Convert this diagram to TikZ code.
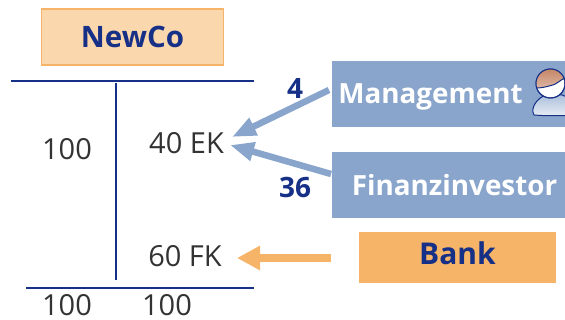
\documentclass[tikz,border=0pt]{standalone}
\usepackage{fontspec}
\setmainfont{Open Sans}
\usetikzlibrary{arrows.meta,positioning}
\definecolor{navy}{RGB}{22,48,135}
\definecolor{steel}{RGB}{137,165,204}
\definecolor{orng}{RGB}{245,180,103}
\definecolor{pale}{RGB}{250,215,172}
\definecolor{skin}{RGB}{196,132,100}
\tikzset{
  x=1pt,y=-1pt,
  rule/.style={draw=navy,line width=1.1pt},
  val/.style={font=\fontsize{29}{29}\selectfont,text=black!80,inner sep=0pt,anchor=center},
  amount/.style={font=\fontsize{28}{28}\selectfont\bfseries,text=navy,inner sep=0pt},
  bluebox/.style={fill=steel,inner sep=0pt},
  boxtext/.style={inner sep=0pt,text=white,font=\fontsize{27.8}{27.8}\selectfont\bfseries},
  bluearrow/.style={draw=steel,line width=6.5pt,-{Triangle[length=24pt,width=18pt,fill=steel]}},
  orangearrow/.style={draw=orng,line width=8pt,-{Triangle[length=23pt,width=23pt,fill=orng]}},
}
\begin{document}
\begin{tikzpicture}
\useasboundingbox (0,0) rectangle (565,320);
\clip (0,0) rectangle (565,320);
% boxes
\node[draw=orng,line width=1.6pt,fill=pale,text=navy,inner sep=0pt,minimum width=182pt,minimum height=56pt,font=\fontsize{29.5}{29.5}\selectfont\bfseries] (newco) at (132.5,37) {NewCo};
\node[bluebox,minimum width=233pt,minimum height=66pt] (mgmt) at (448.5,94) {};
\node[bluebox,minimum width=233pt,minimum height=66pt] (fin) at (448.5,185) {};
\node[fill=orng,inner sep=0pt,minimum width=197pt,minimum height=51pt] (bank) at (457.5,257.5) {};
\node[inner sep=0pt,text=navy,font=\fontsize{30}{30}\selectfont\bfseries] (bankt) at (457.5,253.5) {Bank};
\node[boxtext] (mgmtt) at (430.5,97) {Management};
\node[boxtext] (fint) at (454.5,185) {Finanzinvestor};
% T-account
\coordinate (tl) at (11,81); \coordinate (tr) at (254,81);
\coordinate (vt) at (116,83); \coordinate (vb) at (116,280);
\coordinate (bl) at (26,288); \coordinate (br) at (254,288);
\draw[rule] (tl) -- (tr);
\draw[rule] (vt) -- (vb);
\draw[rule] (bl) -- (br);
\node[val] (a) at (67,149) {100};
\node[val] (ek) at (186.5,143) {40 EK};
\node[val] (fk) at (185,256) {60 FK};
\node[val] (s1) at (67,305) {100};
\node[val] (s2) at (167,305) {100};
% arrows
\coordinate (m0) at (329,90); \coordinate (m1) at (232,137);
\coordinate (f0) at (331,174); \coordinate (f1) at (230,145);
\coordinate (b0) at (331,258); \coordinate (b1) at (237,258);
\draw[bluearrow] (m0) -- (m1);
\draw[bluearrow] (f0) -- (f1);
\draw[orangearrow] (b0) -- (b1);
\node[amount] (n4) at (295,89) {4};
\node[amount] (n36) at (295,188) {36};
% person icon
\begin{scope}[line width=1pt]
\draw[draw=navy,top color=steel!70!white,bottom color=steel!20!white] (534,115) .. controls (530,108) and (537,98) .. (546,95) -- (562,95) .. controls (572,98) and (578,108) .. (575,115) .. controls (560,116) and (545,116) .. (534,115) -- cycle;
\draw[draw=navy,fill=white] (550.5,83.5) circle (14.5);
\begin{scope}
\clip (550.5,83.5) circle (14.5);
\shade[top color=skin,bottom color=skin!60!white] (535,68) -- (566,68) -- (566,78) .. controls (560,80) and (556,85) .. (551,85.5) .. controls (546,87) and (541,88) .. (535,88) -- cycle;
\end{scope}
\draw[draw=navy] (550.5,83.5) circle (14.5);
\draw[draw=navy] (536.5,88) .. controls (541,88) and (546,87) .. (551,85.5) .. controls (556,85) and (560,80) .. (565,78);
\end{scope}
\end{tikzpicture}
\end{document}
